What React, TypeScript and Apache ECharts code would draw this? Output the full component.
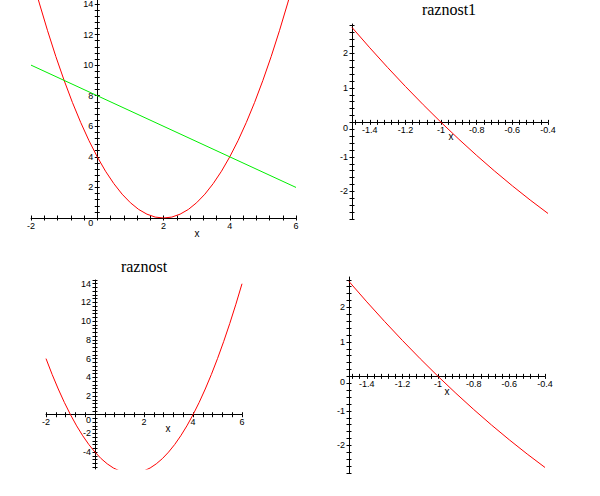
import React, { useEffect, useRef } from "react";
import * as echarts from "echarts";

// ---- data ----
// top-left: parabola (red) and straight line (green)
const parabolaX = [-2, -1.75, -1.5, -1.25, -1, -0.75, -0.5, -0.25, 0, 0.25, 0.5, 0.75, 1, 1.25, 1.5, 1.75, 2, 2.25, 2.5, 2.75, 3, 3.25, 3.5, 3.75, 4, 4.25, 4.5, 4.75, 5, 5.25, 5.5, 5.75, 6];
const parabolaY = [16, 14.06, 12.25, 10.56, 9, 7.56, 6.25, 5.06, 4, 3.06, 2.25, 1.56, 1, 0.56, 0.25, 0.06, 0, 0.06, 0.25, 0.56, 1, 1.56, 2.25, 3.06, 4, 5.06, 6.25, 7.56, 9, 10.56, 12.25, 14.06, 16];
const lineX = [-2, 6];
const lineY = [10, 2];

// bottom-left: raznost
const raznostX = [-2, -1.75, -1.5, -1.25, -1, -0.75, -0.5, -0.25, 0, 0.25, 0.5, 0.75, 1, 1.25, 1.5, 1.75, 2, 2.25, 2.5, 2.75, 3, 3.25, 3.5, 3.75, 4, 4.25, 4.5, 4.75, 5, 5.25, 5.5, 5.75, 6];
const raznostY = [6, 4.31, 2.75, 1.31, 0, -1.19, -2.25, -3.19, -4, -4.69, -5.25, -5.69, -6, -6.19, -6.25, -6.19, -6, -5.69, -5.25, -4.69, -4, -3.19, -2.25, -1.19, 0, 1.31, 2.75, 4.31, 6, 7.81, 9.75, 11.81, 14];

// right panels: raznost1
const raznost1X = [-1.5, -1.4, -1.3, -1.2, -1.1, -1, -0.9, -0.8, -0.7, -0.6, -0.5, -0.4];
const raznost1Y = [2.75, 2.16, 1.59, 1.04, 0.51, 0, -0.49, -0.96, -1.41, -1.84, -2.25, -2.64];

// tick labels
const leftXLabels = [-2, 2, 4, 6];
const topLeftYLabels = [0, 2, 4, 6, 8, 10, 12, 14];
const bottomLeftYLabels = [-4, -2, 0, 2, 4, 6, 8, 10, 12, 14];
const rightXLabels = [-1.4, -1.2, -1, -0.8, -0.6, -0.4];
const rightYLabels = [-2, -1, 0, 1, 2];

const titles = ["raznost1", "raznost"];

const ticks = (from: number, to: number, step: number) => {
  const out: number[] = [];
  const n = Math.round((to - from) / step);
  for (let i = 0; i <= n; i++) out.push(Math.round((from + i * step) * 1000) / 1000);
  return out;
};

const pairs = (xs: number[], ys: number[]) => xs.map((x, i) => [x, ys[i]]);

const LABEL_FONT = '"Liberation Sans", Arial, sans-serif';
const SERIF_FONT = '"Liberation Serif", "Times New Roman", serif';
const fmt = (v: number) => String(Math.round(v * 100) / 100);

const panels = [
  {
    grid: { left: 31, top: 0, width: 265, height: 218 },
    x: [-2, 6], y: [0, 14.26],
    xTicks: ticks(-2, 6, 0.4), yTicks: ticks(0, 14, 0.4),
    xLabels: leftXLabels, yLabels: topLeftYLabels, zeroPad: 10,
  },
  {
    grid: { left: 352, top: 24, width: 196, height: 195 },
    x: [-1.5, -0.4], y: [-2.8, 2.85],
    xTicks: ticks(-1.48, -0.4, 0.04), yTicks: ticks(-2.8, 2.8, 0.2),
    xLabels: rightXLabels, yLabels: rightYLabels, zeroPad: 12,
  },
  {
    grid: { left: 46, top: 280, width: 196, height: 189 },
    x: [-2, 6], y: [-5.8, 14.4],
    xTicks: ticks(-2, 6, 0.4), yTicks: ticks(-5.6, 14.4, 0.4),
    xLabels: leftXLabels, yLabels: bottomLeftYLabels, zeroPad: 10,
  },
  {
    grid: { left: 349, top: 277, width: 196, height: 196 },
    x: [-1.5, -0.4], y: [-2.8, 2.88],
    xTicks: ticks(-1.48, -0.4, 0.04), yTicks: ticks(-2.8, 2.8, 0.2),
    xLabels: rightXLabels, yLabels: rightYLabels, zeroPad: 12,
  },
];

const TICK = 2.5;

function buildOption() {
  const grid: any[] = [];
  const xAxis: any[] = [];
  const yAxis: any[] = [];
  panels.forEach((p, g) => {
    grid.push({ ...p.grid, show: false, outerBoundsMode: "none" });
    // axes cross at zero: shift each axis from its grid edge to the other axis' zero
    const xOffset = p.y[0] <= 0 && p.y[1] >= 0 ? -((0 - p.y[0]) / (p.y[1] - p.y[0])) * p.grid.height : 0;
    const yOffset = p.x[0] <= 0 && p.x[1] >= 0 ? -((0 - p.x[0]) / (p.x[1] - p.x[0])) * p.grid.width : 0;
    const common = (dimMin: number, dimMax: number) => ({
      type: "value", gridIndex: g, min: dimMin, max: dimMax,
      splitLine: { show: false }, minorTick: { show: false }, silent: true,
    });
    const tickStyle = { color: "#000", width: 1 };
    // x primary
    xAxis.push({
      ...common(p.x[0], p.x[1]),
      position: "bottom", offset: xOffset,
      axisLine: { show: true, onZero: false, lineStyle: { color: "#000", width: 1 } },
      axisTick: { show: true, customValues: p.xTicks, length: TICK, lineStyle: tickStyle },
      axisLabel: {
        show: true, customValues: p.xLabels, margin: 3, fontSize: 9, fontFamily: LABEL_FONT, color: "#000",
        formatter: (v: number) => fmt(v),
      },
    });
    // x secondary (ticks on the other side of the line)
    xAxis.push({
      ...common(p.x[0], p.x[1]),
      position: "bottom", offset: xOffset,
      axisLine: { show: false, onZero: false },
      axisTick: { show: true, inside: true, customValues: p.xTicks, length: TICK, lineStyle: tickStyle },
      axisLabel: { show: false },
    });
    // y primary
    yAxis.push({
      ...common(p.y[0], p.y[1]),
      position: "left", offset: yOffset,
      axisLine: { show: true, onZero: false, lineStyle: { color: "#000", width: 1 } },
      axisTick: { show: true, customValues: p.yTicks, length: TICK, lineStyle: tickStyle },
      axisLabel: {
        show: true, customValues: p.yLabels, margin: 4, fontSize: 9, fontFamily: LABEL_FONT, color: "#000",
        formatter: (v: number) => (Math.abs(v) < 1e-9 ? "{z|0}" : fmt(v)),
        rich: { z: { padding: [p.zeroPad, 0, 0, 0], fontSize: 9, fontFamily: LABEL_FONT, color: "#000" } },
      },
    });
    // y secondary
    yAxis.push({
      ...common(p.y[0], p.y[1]),
      position: "left", offset: yOffset,
      axisLine: { show: false, onZero: false },
      axisTick: { show: true, inside: true, customValues: p.yTicks, length: TICK, lineStyle: tickStyle },
      axisLabel: { show: false },
    });
  });

  const lineSeries = (name: string, g: number, data: number[][], color: string) => ({
    name, type: "line", xAxisIndex: 2 * g, yAxisIndex: 2 * g, data,
    showSymbol: false, symbol: "none", clip: true, silent: true,
    lineStyle: { color, width: 1 }, z: 5,
  });

  const xLabel = (x: number, y: number) => ({
    type: "text", x, y, silent: true,
    style: { text: "x", fontSize: 10, fontFamily: LABEL_FONT, fill: "#000", align: "center", verticalAlign: "middle" },
  });
  const title = (text: string, x: number, y: number) => ({
    type: "text", x, y, silent: true,
    style: { text, fontSize: 16, fontFamily: SERIF_FONT, fill: "#000", align: "center", verticalAlign: "middle" },
  });

  return {
    animation: false,
    backgroundColor: "#fff",
    grid, xAxis, yAxis,
    series: [
      lineSeries("parabola", 0, pairs(parabolaX, parabolaY), "#ff0000"),
      lineSeries("line", 0, pairs(lineX, lineY), "#00ee00"),
      lineSeries("raznost1", 1, pairs(raznost1X, raznost1Y), "#ff0000"),
      lineSeries("raznost", 2, pairs(raznostX, raznostY), "#ff0000"),
      lineSeries("raznost1b", 3, pairs(raznost1X, raznost1Y), "#ff0000"),
    ],
    graphic: [
      title(titles[0], 449, 9),
      title(titles[1], 144, 266),
      xLabel(197, 233),
      xLabel(451, 136),
      xLabel(168, 428),
      xLabel(447, 391),
    ],
  };
}

export default function App() {
  const ref = useRef<HTMLDivElement>(null);
  useEffect(() => {
    document.body.style.margin = "0";
    if (!ref.current) return;
    const chart = echarts.init(ref.current, null, { renderer: "svg" });
    chart.setOption(buildOption() as any);
    return () => chart.dispose();
  }, []);
  return <div ref={ref} style={{ width: 600, height: 496, background: "#fff" }} />;
}
